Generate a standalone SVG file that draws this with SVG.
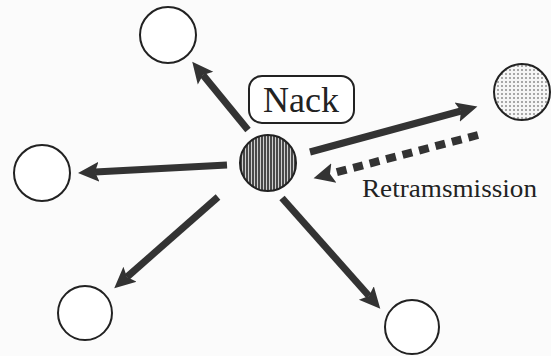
<svg xmlns="http://www.w3.org/2000/svg" width="551" height="356" viewBox="0 0 551 356">
  <style>
    .node { fill: #fff; stroke: #222; stroke-width: 2; }
    .arrow { stroke: #333; stroke-width: 7; fill: none; marker-end: url(#head); }
    .dash { stroke: #333; stroke-width: 8; fill: none; stroke-dasharray: 10 7; marker-end: url(#head); }
    .label { font-family: "Liberation Serif", "Times New Roman", serif; fill: #222; }
  </style>
  <defs>
    <!-- notched arrowhead; refX sits on the notch so the shaft ends inside the head -->
    <marker id="head" markerUnits="userSpaceOnUse" markerWidth="26" markerHeight="24" viewBox="0 -12 26 24" refX="4" refY="0" orient="auto">
      <path d="M21,0 L0,-10 L4,0 L0,10 Z" fill="#333"/>
    </marker>
    <pattern id="stripes" width="3" height="4" patternUnits="userSpaceOnUse">
      <rect width="3" height="4" fill="#4a4a4a"/>
      <rect x="2" width="1" height="4" fill="#d0d0d0"/>
    </pattern>
    <pattern id="dots" width="4" height="4" patternUnits="userSpaceOnUse">
      <rect width="4" height="4" fill="#f6f6f6"/>
      <circle cx="2" cy="2" r="0.8" fill="#444"/>
    </pattern>
  </defs>
  <rect width="551" height="356" fill="#fbfbfb"/>

  <g id="connectors">
    <line class="arrow" x1="248" y1="130" x2="203" y2="75"/>
    <line class="arrow" x1="227" y1="165" x2="95" y2="172"/>
    <line class="arrow" x1="218" y1="197" x2="127" y2="277"/>
    <line class="arrow" x1="282" y1="198" x2="369" y2="296"/>
    <line class="arrow" x1="310" y1="152" x2="461" y2="111"/>
    <line class="dash" x1="478" y1="135" x2="330" y2="174"/>
  </g>

  <g id="sender">
    <circle cx="268" cy="163" r="28" fill="url(#stripes)" stroke="#222" stroke-width="2"/>
  </g>
  <g id="node-top">
    <circle class="node" cx="168" cy="35" r="28"/>
  </g>
  <g id="node-left">
    <circle class="node" cx="42" cy="173" r="28"/>
  </g>
  <g id="node-bottom-left">
    <circle class="node" cx="85" cy="313" r="27"/>
  </g>
  <g id="node-bottom-right">
    <circle class="node" cx="412" cy="327" r="27"/>
  </g>
  <g id="node-nack">
    <circle cx="522" cy="92" r="28" fill="url(#dots)" stroke="#222" stroke-width="2"/>
  </g>

  <g id="nack-label">
    <rect x="249" y="76" width="105" height="47" rx="13" fill="#fff" stroke="#222" stroke-width="2"/>
    <text class="label" x="301" y="112" font-size="36" text-anchor="middle">Nack</text>
  </g>
  <g id="retransmission-label">
    <text class="label" x="362" y="197" font-size="25" textLength="175" lengthAdjust="spacingAndGlyphs">Retramsmission</text>
  </g>
</svg>
